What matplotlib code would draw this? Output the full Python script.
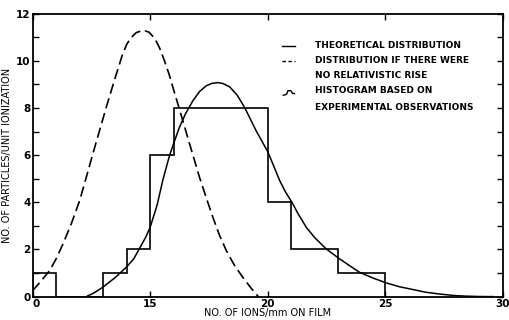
import numpy as np
import matplotlib
matplotlib.use("Agg")
import matplotlib.pyplot as plt
import matplotlib.transforms as mtransforms
from matplotlib.ticker import MultipleLocator

plt.rcParams.update({
    "font.family": "DejaVu Sans",
    "font.weight": "bold",
    "font.size": 6.5,
    "axes.linewidth": 1.3,
    "lines.scale_dashes": False,
})

# histogram of experimental observations (bin edges and counts)
hist_edges = [10, 11, 13, 14, 15, 16, 20, 21, 23, 25]
hist_counts = [1, 0, 1, 2, 6, 8, 4, 2, 1]

# theoretical distribution
theo_x = [12.28, 12.6, 12.99, 13.5, 13.98, 14.3, 14.55, 14.8, 15.0, 15.3,
          15.54, 15.82, 16.0, 16.24, 16.5, 16.81, 17.1, 17.38, 17.6, 17.88,
          18.1, 18.38, 18.7, 19.02, 19.51, 20.0, 20.25, 20.51, 20.75, 21.03,
          21.3, 21.64, 22.0, 22.49, 23.06, 23.5, 23.91, 24.5, 25.05, 25.6,
          26.18, 26.7, 27.31, 27.9, 28.45, 29.0, 29.6]
theo_y = [0.0, 0.15, 0.4, 0.8, 1.24, 1.6, 2.05, 2.5, 2.94, 3.9,
          4.95, 5.97, 6.5, 7.17, 7.75, 8.3, 8.7, 8.94, 9.04, 9.08,
          9.04, 8.9, 8.55, 8.02, 7.03, 6.15, 5.55, 4.92, 4.45, 4.0,
          3.5, 2.94, 2.5, 2.02, 1.6, 1.3, 1.03, 0.78, 0.58, 0.42,
          0.3, 0.19, 0.11, 0.05, 0.02, 0.005, 0.0]

# distribution if there were no relativistic rise
norel_x = [10.0, 10.35, 10.72, 11.0, 11.29, 11.65, 12.0, 12.28, 12.56, 12.85,
           13.13, 13.35, 13.56, 13.8, 14.0, 14.2, 14.41, 14.7, 14.95, 15.2,
           15.4, 15.61, 15.8, 15.97, 16.2, 16.39, 16.68, 16.9, 17.1, 17.4,
           17.67, 17.95, 18.24, 18.6, 18.94, 19.3, 19.6]
norel_y = [0.25, 0.65, 1.1, 1.6, 2.23, 3.1, 4.07, 5.05, 6.05, 7.05,
           8.02, 8.75, 9.43, 10.2, 10.7, 11.0, 11.2, 11.3, 11.22, 10.95,
           10.55, 10.0, 9.45, 8.87, 8.1, 7.46, 6.47, 5.73, 5.06, 4.15,
           3.36, 2.6, 1.95, 1.3, 0.82, 0.35, 0.0]

x_ticks = [10, 15, 20, 25, 30]
x_ticklabels = ["0", "15", "20", "25", "30"]

fig = plt.figure(figsize=(5.09, 3.2), dpi=100)
ax = fig.add_axes([0.064, 0.073, 0.924, 0.884])

ax.stairs(hist_counts, hist_edges, color="black", lw=1.2)
ax.plot(theo_x, theo_y, color="black", lw=1.1)
ax.plot(norel_x, norel_y, color="black", lw=1.2, dashes=(7.5, 3.5))

ax.set_xlim(10, 30)
ax.set_ylim(0, 12)
ax.set_xticks(x_ticks)
ax.set_xticklabels(x_ticklabels)
ax.yaxis.set_major_locator(MultipleLocator(2))
ax.yaxis.set_minor_locator(MultipleLocator(1))
ax.tick_params(which="both", direction="in", top=True, right=True,
               length=4, width=1.0, labelsize=7.5, pad=1.5)
ax.tick_params(axis="y", which="minor", length=4)

# nudge the two corner "0" labels apart, as on the original
fig.canvas.draw()
ax.get_xticklabels()[0].set_transform(
    ax.get_xticklabels()[0].get_transform()
    + mtransforms.ScaledTranslation(4 / 100, 0, fig.dpi_scale_trans))
ax.get_yticklabels()[0].set_transform(
    ax.get_yticklabels()[0].get_transform()
    + mtransforms.ScaledTranslation(0, 3 / 100, fig.dpi_scale_trans))

ax.set_xlabel("NO. OF IONS/mm ON FILM", fontsize=7, labelpad=-0.5)
ax.set_ylabel("NO. OF PARTICLES/UNIT IONIZATION", fontsize=7, labelpad=3)

# legend drawn by hand
tx = 0.6
ax.text(tx, 0.887, "THEORETICAL DISTRIBUTION", transform=ax.transAxes, va="center")
ax.text(tx, 0.834, "DISTRIBUTION IF THERE WERE", transform=ax.transAxes, va="center")
ax.text(tx, 0.781, "NO RELATIVISTIC RISE", transform=ax.transAxes, va="center")
ax.text(tx, 0.728, "HISTOGRAM BASED ON", transform=ax.transAxes, va="center")
ax.text(tx, 0.669, "EXPERIMENTAL OBSERVATIONS", transform=ax.transAxes, va="center")
ax.plot([0.53, 0.557], [0.887, 0.887], color="black", lw=1.0, transform=ax.transAxes)
ax.plot([0.53, 0.559], [0.834, 0.834], color="black", lw=1.0, dashes=(2.5, 1.8),
        transform=ax.transAxes)
ax.plot([0.533, 0.54, 0.543, 0.549, 0.553, 0.557],
        [0.712, 0.715, 0.728, 0.728, 0.718, 0.718],
        color="black", lw=1.0, transform=ax.transAxes)

fig.savefig("out.png", dpi=100)
